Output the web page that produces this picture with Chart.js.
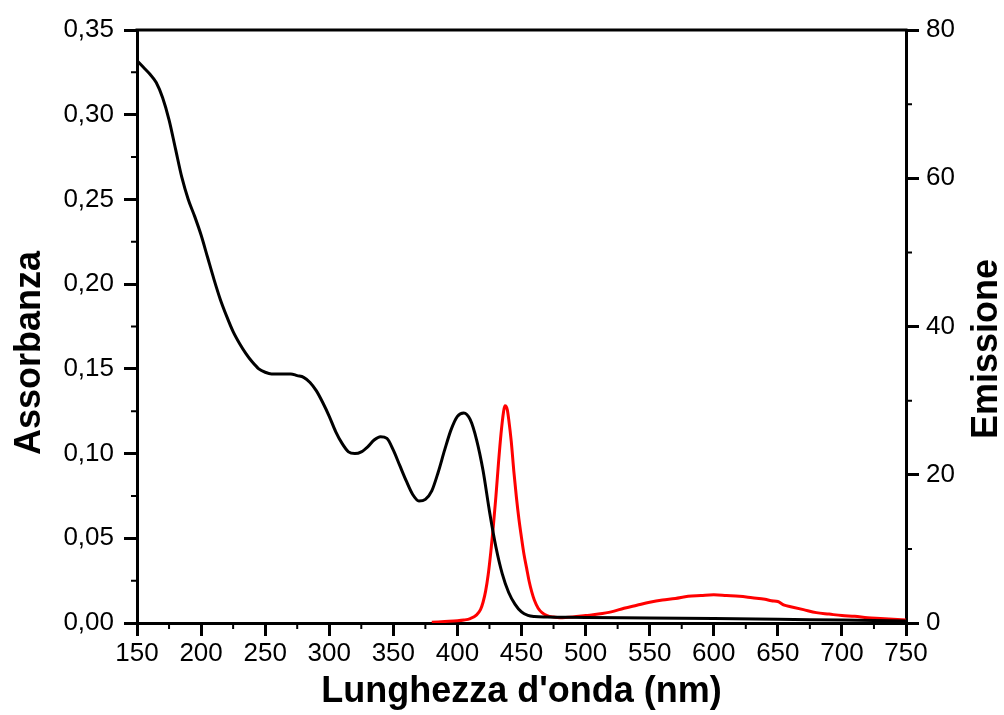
<!DOCTYPE html>
<html>
<head>
<meta charset="utf-8">
<script src="https://cdn.jsdelivr.net/npm/chart.js@4/dist/chart.umd.min.js"></script>
<style>
html,body{margin:0;padding:0;background:#fff;}
#wrap{width:1004px;height:715px;}
</style>
</head>
<body>
<div id="wrap"><canvas id="c" width="1004" height="715"></canvas></div>
<script>
// Absorbance (black, left axis)
const absWavelength = [150,155,160,165,170,175,180,185,190,195,200,205,210,215,220,225,230,235,240,245,250,255,260,265,270,275,280,285,290,295,300,305,310,315,320,325,330,335,340,345,350,355,360,365,370,375,380,385,390,395,400,405,410,415,420,425,430,435,440,445,450,455,460,470,480,500,550,600,650,700,750];
const absValues = [0.332,0.328,0.324,0.319,0.310,0.297,0.280,0.263,0.250,0.240,0.229,0.216,0.203,0.191,0.181,0.172,0.165,0.159,0.154,0.150,0.148,0.147,0.147,0.147,0.147,0.146,0.145,0.142,0.137,0.130,0.122,0.113,0.106,0.101,0.100,0.101,0.104,0.108,0.110,0.109,0.102,0.093,0.084,0.076,0.072,0.073,0.078,0.089,0.102,0.114,0.122,0.124,0.120,0.108,0.090,0.066,0.045,0.029,0.018,0.011,0.0065,0.0045,0.0038,0.0035,0.0034,0.0032,0.003,0.0027,0.0022,0.0017,0.0012];
// Emission (red, right axis)
const emWavelength = [380,390,400,405,410,415,418,420,422,424,426,428,430,432,434,436,437,438,439,440,442,444,446,448,450,452,454,456,458,460,463,466,470,475,480,490,500,510,520,530,540,550,560,570,580,590,600,610,620,630,640,645,650,655,660,670,680,690,700,710,720,730,740,750];
const emValues = [0.1,0.2,0.3,0.4,0.6,1.1,1.8,2.8,4.3,6.5,9.5,13.0,17.0,21.5,25.5,28.5,29.3,29.2,28.7,27.5,24.5,20.5,17.0,14.0,11.5,9.2,7.4,5.6,4.2,3.1,2.0,1.4,1.0,0.8,0.7,0.8,1.0,1.2,1.5,2.0,2.4,2.8,3.1,3.3,3.6,3.7,3.8,3.7,3.6,3.4,3.2,3.0,2.9,2.4,2.2,1.8,1.4,1.2,1.0,0.9,0.7,0.6,0.5,0.4];
// Axis ticks
const xTicks = {min:150, max:750, step:50, minor:25};
const yLeftTicks = {min:0, max:0.35, step:0.05, minor:0.025};
const yRightTicks = {min:0, max:80, step:20, minor:10};

const FONT = "'Liberation Sans', Arial, sans-serif";

const decor = {
  id:'decor',
  afterDraw(chart){
    const ctx = chart.ctx, a = chart.chartArea;
    const x = chart.scales.x, yl = chart.scales.y, yr = chart.scales.y2;
    ctx.save();
    ctx.strokeStyle = '#000';
    ctx.lineWidth = 3;
    ctx.beginPath();
    ctx.moveTo(a.left-1.5, a.top); ctx.lineTo(a.right+1.5, a.top);
    ctx.stroke();
    ctx.lineWidth = 2;
    ctx.beginPath();
    for (let v = xTicks.min + xTicks.minor; v < xTicks.max; v += xTicks.step) {
      const p = x.getPixelForValue(v);
      ctx.moveTo(p, a.bottom); ctx.lineTo(p, a.bottom + 6);
    }
    for (let v = yLeftTicks.min + yLeftTicks.minor; v < yLeftTicks.max; v += yLeftTicks.step) {
      const p = yl.getPixelForValue(v);
      ctx.moveTo(a.left, p); ctx.lineTo(a.left - 6, p);
    }
    for (let v = yRightTicks.min + yRightTicks.minor; v < yRightTicks.max; v += yRightTicks.step) {
      const p = yr.getPixelForValue(v);
      ctx.moveTo(a.right, p); ctx.lineTo(a.right + 6, p);
    }
    ctx.stroke();
    // vertical axis titles, reading bottom-to-top
    ctx.fillStyle = '#000';
    ctx.font = "bold 36px " + FONT;
    ctx.textAlign = 'center';
    ctx.textBaseline = 'middle';
    ctx.save();
    ctx.translate(30, 353);
    ctx.rotate(-Math.PI/2);
    ctx.fillText('Assorbanza', 0, 0);
    ctx.restore();
    ctx.save();
    ctx.translate(987, 349);
    ctx.rotate(-Math.PI/2);
    ctx.fillText('Emissione', 0, 0);
    ctx.restore();
    ctx.restore();
  }
};

new Chart(document.getElementById('c'), {
  type:'line',
  data:{
    datasets:[
      {label:'Assorbanza', data: absWavelength.map((w,i)=>({x:w,y:absValues[i]})), yAxisID:'y',
       borderColor:'#000', borderWidth:3, pointRadius:0, cubicInterpolationMode:'monotone', fill:false},
      {label:'Emissione', data: emWavelength.map((w,i)=>({x:w,y:emValues[i]})), yAxisID:'y2',
       borderColor:'#ff0000', borderWidth:3, pointRadius:0, cubicInterpolationMode:'monotone', fill:false}
    ]
  },
  options:{
    responsive:false, animation:false,
    layout:{padding:{top:30,left:0,right:0,bottom:0}},
    plugins:{legend:{display:false}, tooltip:{enabled:false}},
    scales:{
      x:{type:'linear', min:xTicks.min, max:xTicks.max,
        afterFit(s){ s.height = 92; },
        ticks:{stepSize:xTicks.step, color:'#000', font:{family:FONT,size:26}, padding:2, maxRotation:0, autoSkip:false},
        grid:{drawOnChartArea:false, tickLength:13, lineWidth:3, color:'#000'},
        border:{width:3, color:'#000'},
        title:{display:true, text:"Lunghezza d'onda (nm)", color:'#000', font:{family:FONT,size:36,weight:'bold'}, padding:{top:0,bottom:1}}
      },
      y:{type:'linear', position:'left', min:yLeftTicks.min, max:yLeftTicks.max,
        afterFit(s){ s.width = 137; },
        ticks:{stepSize:yLeftTicks.step, color:'#000', font:{family:FONT,size:26}, padding:10,
          callback:v=>v.toFixed(2).replace('.',',')},
        grid:{drawOnChartArea:false, tickLength:13, lineWidth:3, color:'#000'},
        border:{width:3, color:'#000'}
      },
      y2:{type:'linear', position:'right', min:yRightTicks.min, max:yRightTicks.max,
        afterFit(s){ s.width = 98; },
        ticks:{stepSize:yRightTicks.step, color:'#000', font:{family:FONT,size:26}, padding:7},
        grid:{drawOnChartArea:false, tickLength:13, lineWidth:3, color:'#000'},
        border:{width:3, color:'#000'}
      }
    }
  },
  plugins:[decor]
});
</script>
</body>
</html>
